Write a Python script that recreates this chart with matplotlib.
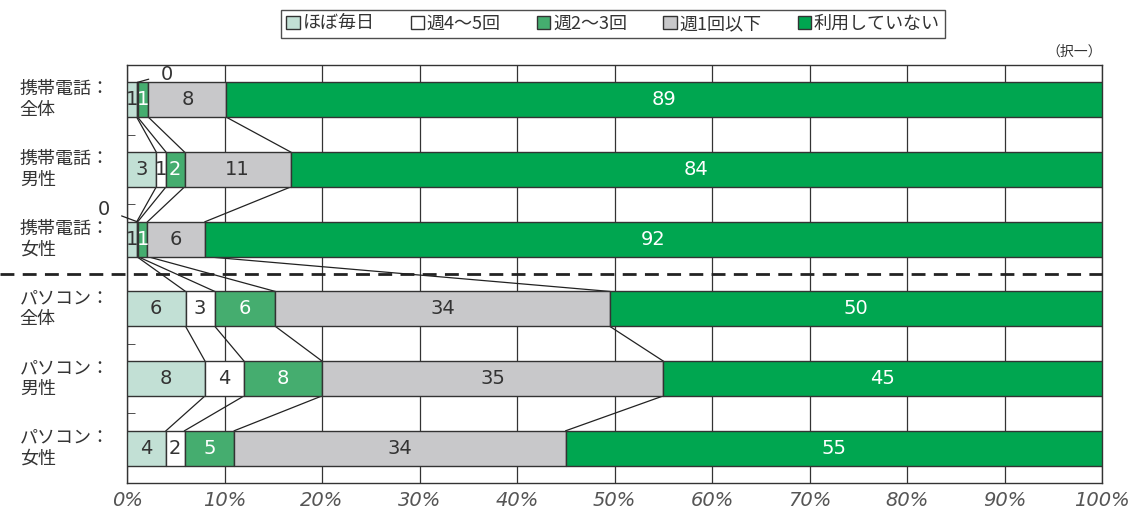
import matplotlib
matplotlib.use("Agg")
import matplotlib.pyplot as plt
import matplotlib.patches as mpatches
import numpy as np

plt.rcParams['font.family'] = ['Noto Sans CJK JP', 'DejaVu Sans']

categories = ["携帯電話：\n全体", "携帯電話：\n男性", "携帯電話：\n女性",
              "パソコン：\n全体", "パソコン：\n男性", "パソコン：\n女性"]
series = ["ほぼ毎日", "週4～5回", "週2～3回", "週1回以下", "利用していない"]
# widths (percent)
daily     = [1.0, 3.0, 1.0, 6.0, 8.0, 4.0]
w45       = [0.1, 1.0, 0.1, 3.0, 4.0, 1.9]
w23       = [1.1, 1.9, 1.0, 6.2, 8.0, 5.1]
w1less    = [8.0, 10.9, 5.9, 34.3, 35.0, 34.0]
notused   = [89.8, 83.2, 92.0, 50.5, 45.0, 55.0]
# printed labels
lab_daily   = ["1", "3", "1", "6", "8", "4"]
lab_45      = ["0", "1", "0", "3", "4", "2"]
lab_23      = ["1", "2", "1", "6", "8", "5"]
lab_1less   = ["8", "11", "6", "34", "35", "34"]
lab_notused = ["89", "84", "92", "50", "45", "55"]
xticks = [0, 10, 20, 30, 40, 50, 60, 70, 80, 90, 100]

colors = ["#c2e0d5", "#ffffff", "#45ad6f", "#c8c8ca", "#00a650"]
txtcolors = ["#333333", "#333333", "#ffffff", "#333333", "#ffffff"]

data = np.array([daily, w45, w23, w1less, notused])
labels = [lab_daily, lab_45, lab_23, lab_1less, lab_notused]

fig = plt.figure(figsize=(11.35, 5.15), dpi=100)
ax = fig.add_axes([127/1135, 1-483/515, 975/1135, 418/515])

n = len(categories)
ypos = np.arange(n)
bh = 0.5
left = np.zeros(n)
cums = [left.copy()]
numfont = dict(family=['DejaVu Sans'], fontsize=14)
for k in range(5):
    ax.barh(ypos, data[k], left=left, height=bh, color=colors[k],
            edgecolor="#333333", linewidth=1.0, zorder=3, label=series[k])
    for i in range(n):
        w = data[k][i]
        if labels[k][i] == "0":
            continue
        ax.text(left[i] + w/2, ypos[i], labels[k][i], ha='center', va='center',
                color=txtcolors[k], zorder=5, **numfont)
    left = left + data[k]
    cums.append(left.copy())

# connector lines
for i in range(n-1):
    for k in range(1, 5):
        ax.plot([cums[k][i], cums[k][i+1]], [ypos[i]+bh/2, ypos[i+1]-bh/2],
                color="#222222", lw=0.9, zorder=2)

# zero labels with leader lines
ax.annotate("0", xy=(cums[1][0]+0.05, ypos[0]-bh/2), xytext=(4.1, ypos[0]-0.37),
            ha='center', va='center', color="#333333",
            arrowprops=dict(arrowstyle='-', color="#222222", lw=0.9, shrinkA=7, shrinkB=0),
            annotation_clip=False, zorder=6, **numfont)
ax.annotate("0", xy=(cums[1][2]+0.05, ypos[2]-bh/2), xytext=(-2.4, ypos[2]-0.43),
            ha='center', va='center', color="#333333",
            arrowprops=dict(arrowstyle='-', color="#222222", lw=0.9, shrinkA=7, shrinkB=0),
            annotation_clip=False, zorder=6, **numfont)

ax.set_xlim(0, 100)
ax.set_ylim(n-0.5, -0.5)
ax.set_xticks(xticks)
ax.set_xticklabels([f"{v}%" for v in xticks], fontsize=14, color="#555555",
                   style='italic', family=['DejaVu Sans'])
ax.xaxis.grid(True, color="#333333", lw=0.9, zorder=0)
ax.set_axisbelow(True)
ax.tick_params(axis='x', length=0, pad=6)
ax.set_yticks([])
ax.set_yticks([0.5, 1.5, 3.5, 4.5], minor=True)
ax.tick_params(axis='y', which='minor', direction='in', length=6, color="#333333")
for s in ax.spines.values():
    s.set_color("#333333")
    s.set_linewidth(1.0)

# category labels
ytr = ax.get_yaxis_transform()
for i, c in enumerate(categories):
    ax.text(-0.11, ypos[i], c, transform=ytr, ha='left', va='center',
            fontsize=13, color="#333333", linespacing=1.2)

# dashed separator
ax.plot([-0.13, 1.0], [2.5, 2.5], transform=ytr, color="#222222", lw=2,
        dashes=(5, 3), clip_on=False, zorder=4)

ax.text(1.0, 1.015, "（択一）", transform=ax.transAxes, ha='right', va='bottom',
        fontsize=10, color="#333333")

handles = [mpatches.Patch(facecolor=colors[k], edgecolor="#333333", linewidth=1.0,
                          label=series[k]) for k in range(5)]
leg = fig.legend(handles=handles, loc='center', bbox_to_anchor=(613/1135, 1-24/515),
                 ncol=5, fontsize=13, frameon=True, fancybox=False,
                 handlelength=0.75, handleheight=0.75, handletextpad=0.15,
                 columnspacing=2.0, borderpad=0.3, edgecolor="#222222")
leg.get_frame().set_linewidth(1.0)
for t in leg.get_texts():
    t.set_color("#333333")

fig.savefig("out.png", dpi=100)
